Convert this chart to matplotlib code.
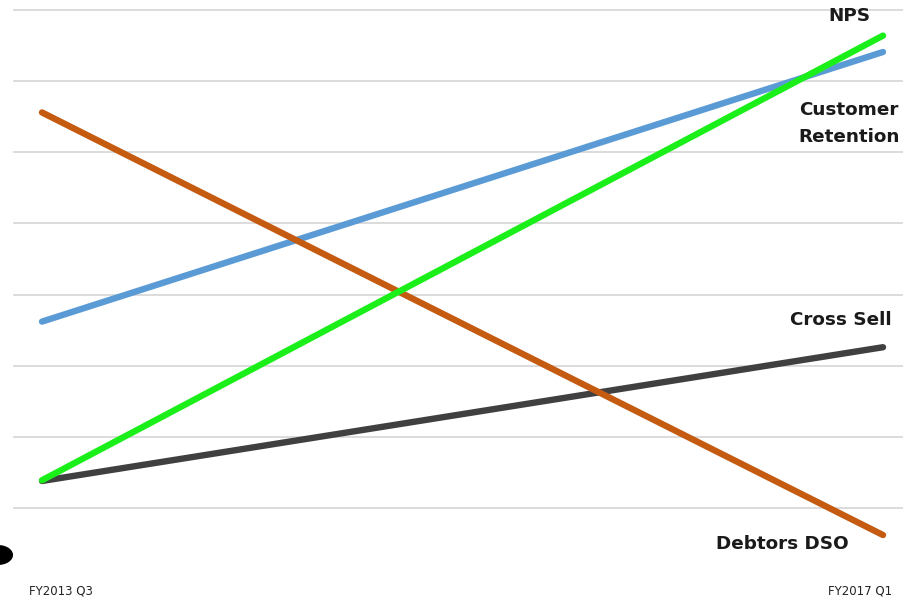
import matplotlib.pyplot as plt
from matplotlib.patches import Circle

# period endpoints (x) and series values
periods = ["FY2013 Q3", "FY2017 Q1"]
x = [0, 1]
retention = [2.62, 6.41]
nps = [0.39, 6.64]
dso = [5.56, -0.38]
cross_sell = [0.38, 2.26]

fig = plt.figure(figsize=(9.04, 6.01), dpi=100)
W, H = 904.0, 601.0
ax = fig.add_axes([14 / W, 1 - 508 / H, 890 / W, 498 / H])
ax.set_xlim(-28 / 841, 1 + 21 / 841)
ax.set_ylim(0, 7)

for g in range(8):
    ax.axhline(g, color="#d9d9d9", lw=1.3, zorder=0, clip_on=False)

lw = 4.6
ax.plot(x, retention, color="#5b9bd5", lw=lw, solid_capstyle="round", clip_on=False, zorder=3)
ax.plot(x, dso, color="#c55a11", lw=lw, solid_capstyle="round", clip_on=False, zorder=4)
ax.plot(x, cross_sell, color="#404040", lw=lw, solid_capstyle="round", clip_on=False, zorder=3)
ax.plot(x, nps, color="#1aef1a", lw=lw, solid_capstyle="round", clip_on=False, zorder=5)

for s in ax.spines.values():
    s.set_visible(False)
ax.set_xticks([])
ax.set_yticks([])

lab = dict(fontsize=13.2, fontweight="bold", color="#1a1a1a", family="DejaVu Sans")
fig.text(849 / W, 1 - 16 / H, "NPS", ha="center", va="center", **lab)
fig.text(849 / W, 1 - 110 / H, "Customer", ha="center", va="center", **lab)
fig.text(849 / W, 1 - 137 / H, "Retention", ha="center", va="center", **lab)
fig.text(841 / W, 1 - 320 / H, "Cross Sell", ha="center", va="center", **lab)
fig.text(782 / W, 1 - 544 / H, "Debtors DSO", ha="center", va="center", **lab)

fig.text(61 / W, 1 - 591 / H, periods[0], ha="center", va="center", fontsize=8.5, color="#222222")
fig.text(860 / W, 1 - 591 / H, periods[1], ha="center", va="center", fontsize=8.5, color="#222222")

# stray marker at left edge
fig.patches.append(Circle((-2 / W, 1 - 555 / H), 10 / H, transform=fig.transFigure,
                          facecolor="black", edgecolor="none"))

fig.savefig("out.png", dpi=100)
